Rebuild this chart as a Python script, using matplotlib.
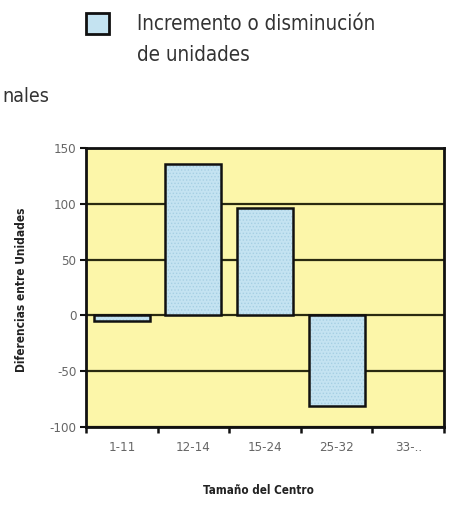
import numpy as np
import matplotlib.pyplot as plt
from matplotlib.patches import Rectangle

# ——— 数据 ———
categories = ['1-11', '12-14', '15-24', '25-32', '33-..']
diferencias = [-5, 136, 96, -81, 0]
yticks = [-100, -50, 0, 50, 100, 150]

# 字体：窄体
plt.rcParams['font.family'] = ['DejaVu Sans']
plt.rcParams['font.stretch'] = 'condensed'
plt.rcParams['hatch.linewidth'] = 0.6

W, H = 452, 528
fig = plt.figure(figsize=(W / 100, H / 100), dpi=100)
ax = fig.add_axes([86 / W, 1 - 427 / H, (444 - 86) / W, (427 - 148) / H])

bg = '#fcf6a9'
bar_col = '#c4e3f1'
ax.set_facecolor(bg)

x = np.arange(len(categories))
ax.set_xlim(-0.5, len(categories) - 0.5)
ax.set_ylim(-100, 150)
for yv in yticks:
    ax.axhline(yv, color='#2a2a10', lw=1.6, zorder=1)
ax.bar(x, diferencias, width=0.78, color=bar_col, linewidth=0, zorder=2)
# 细点纹理
ax.bar(x, diferencias, width=0.78, facecolor='none', edgecolor='#a6cfe3',
       hatch='.....', linewidth=0, zorder=2.5)
lws = [1.8 if v != 0 else 0 for v in diferencias]
ax.bar(x, diferencias, width=0.78, facecolor='none', edgecolor='#111111',
       linewidth=lws, zorder=3)

for s in ax.spines.values():
    s.set_linewidth(2.0)
    s.set_color('#111111')

ax.set_yticks(yticks)
ax.set_yticklabels([str(v) for v in yticks], fontsize=9.5, color='#666666')
ax.set_xticks(x)
ax.set_xticklabels(categories, fontsize=9.5, color='#666666')
ax.tick_params(axis='x', length=0, pad=10)
ax.set_xticks(np.arange(-0.5, len(categories)), minor=True)
ax.tick_params(axis='x', which='minor', length=4, width=1.8, color='#111111')
ax.tick_params(axis='y', length=4, width=1.5, color='#111111', pad=3)

# 轴标签
fig.text(22 / W, 1 - 290 / H, 'Diferencias entre Unidades', rotation=90,
         ha='center', va='center', fontsize=8.6, fontweight='bold', color='#222222')
fig.text(258 / W, 1 - 491 / H, 'Tamaño del Centro', ha='center', va='center',
         fontsize=8.4, fontweight='bold', color='#222222')

# 图例
fig.patches.append(Rectangle((86 / W, 1 - 34 / H), 23 / W, 21 / H,
                             transform=fig.transFigure, facecolor=bar_col,
                             edgecolor='#111111', linewidth=2.0))
fig.text(137 / W, 1 - 24 / H, 'Incremento o disminución', ha='left', va='center',
         fontsize=14.8, color='#333333')
fig.text(137 / W, 1 - 55 / H, 'de unidades', ha='left', va='center',
         fontsize=14.8, color='#333333')
fig.text(2 / W, 1 - 97 / H, 'nales', ha='left', va='center', fontsize=14, color='#333333')

fig.savefig('out.png', dpi=100, facecolor='white')
